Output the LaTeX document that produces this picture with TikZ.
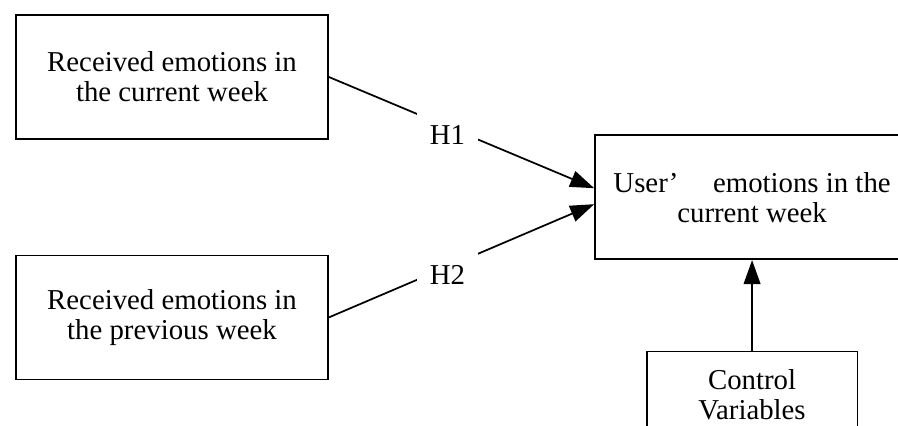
\documentclass[tikz,border=0pt]{standalone}
\usepackage{fontspec}
\setmainfont{Liberation Serif}
\usepackage{tikz}
\usetikzlibrary{arrows.meta, positioning, calc}
\tikzset{
  var/.style={rectangle, draw=black, line width=1.3pt, fill=white, align=center, font=\fontsize{21.6}{22.5}\selectfont, minimum width=234pt, minimum height=93pt, inner sep=4pt},
  ctrl/.style={var, minimum width=158pt, minimum height=64.5pt},
  hyp/.style={fill=white, font=\fontsize{21.6}{22.5}\selectfont, minimum width=46pt, minimum height=33pt, inner sep=0pt, yshift=-6pt},
  arr/.style={-{Triangle[length=18pt, width=12.5pt]}, line width=1.3pt, black},
}

\begin{document}
\begin{tikzpicture}[node distance=86pt and 199pt]
\useasboundingbox (-129pt,57.75pt) rectangle (544.5pt,-261pt);
\clip (-129pt,57.75pt) rectangle (544.5pt,-261pt);
\node[var] (cur) {Received emotions in\\the current week};
\node[var, below=of cur] (prev) {Received emotions in\\the previous week};
\coordinate (mid) at ($(cur.east)!0.5!(prev.east)$);
\node[var, right=of mid, minimum width=235.5pt] (user) {User’\hspace{1.2em}emotions in the\\current week};
\node[ctrl, below=68pt of user] (ctrl) {Control\\Variables};
\draw[arr] (cur.east) -- node[hyp, pos=0.447] (h1) {H1} ([yshift=6.75pt]user.west);
\draw[arr] (prev.east) -- node[hyp, pos=0.447] (h2) {H2} ([yshift=-5.25pt]user.west);
\draw[arr] (ctrl) -- (user);
\end{tikzpicture}
\end{document}
